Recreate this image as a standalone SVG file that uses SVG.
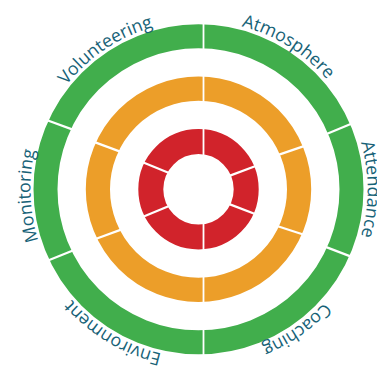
<svg xmlns="http://www.w3.org/2000/svg" xmlns:xlink="http://www.w3.org/1999/xlink" width="377" height="368" viewBox="0 0 377 368">
  <style>
    .ring { fill: none; }
    .green { stroke: #41ae4c; stroke-width: 24; }
    .orange { stroke: #ec9e29; stroke-width: 24.2; }
    .red { stroke: #d1232b; stroke-width: 25; }
    .gap { stroke: #ffffff; stroke-width: 2.2; stroke-linecap: butt; }
    .label { font-family: "Open Sans", Lato, "DejaVu Sans", sans-serif; font-size: 17.8px; font-weight: 500; fill: #176277; }
  </style>
  <defs>
    <!-- clockwise circle starting at 12 o'clock, used as the label baseline -->
    <path id="labelArc" d="M199,20.8 A168.5,168.5 0 1 1 199,357.8 A168.5,168.5 0 1 1 199,20.8"/>
  </defs>

  <rect width="377" height="368" fill="#ffffff"/>

  <!-- outer ring -->
  <g id="outer-ring">
    <circle class="ring green" cx="198.5" cy="189.3" r="153"/>
  </g>

  <!-- middle ring -->
  <g id="middle-ring">
    <circle class="ring orange" cx="198.5" cy="189.3" r="100.6"/>
  </g>

  <!-- inner ring -->
  <g id="inner-ring">
    <circle class="ring red" cx="198.5" cy="189.3" r="47.7"/>
  </g>

  <!-- white separators splitting each ring into six segments -->
  <g id="separators" class="gap">
    <line x1="203.5" y1="20" x2="203.5" y2="358" stroke-width="1.8"/>
    <!-- outer -->
    <line x1="44.5" y1="119.3" x2="74.8" y2="130.4"/>
    <line x1="323.6" y1="135.2" x2="353.7" y2="122.8"/>
    <line x1="45.6" y1="261.5" x2="75.4" y2="249.5"/>
    <line x1="323" y1="245.9" x2="353" y2="257.4"/>
    <!-- middle -->
    <line x1="91.2" y1="140.9" x2="121.5" y2="152.1"/>
    <line x1="276.2" y1="155.6" x2="306.1" y2="145.4"/>
    <line x1="93.5" y1="239.7" x2="123.8" y2="228.6"/>
    <line x1="275.5" y1="225.5" x2="305.5" y2="235.2"/>
    <!-- inner -->
    <line x1="140.3" y1="161.2" x2="169.7" y2="173.2"/>
    <line x1="228" y1="176.4" x2="257.7" y2="165.3"/>
    <line x1="141.3" y1="217.5" x2="169.7" y2="205.8"/>
    <line x1="228" y1="203.6" x2="257" y2="214.7"/>
  </g>

  <!-- segment labels around the outer ring -->
  <g id="label-atmosphere"><text class="label" text-anchor="middle"><textPath xlink:href="#labelArc" href="#labelArc" startOffset="8.9%">Atmosphere</textPath></text></g>
  <g id="label-attendance"><text class="label" text-anchor="middle"><textPath xlink:href="#labelArc" href="#labelArc" startOffset="25%">Attendance</textPath></text></g>
  <g id="label-coaching"><text class="label" text-anchor="middle"><textPath xlink:href="#labelArc" href="#labelArc" startOffset="40.3%">Coaching</textPath></text></g>
  <g id="label-environment"><text class="label" text-anchor="middle"><textPath xlink:href="#labelArc" href="#labelArc" startOffset="58.6%">Environment</textPath></text></g>
  <g id="label-monitoring"><text class="label" text-anchor="middle"><textPath xlink:href="#labelArc" href="#labelArc" startOffset="74.4%">Monitoring</textPath></text></g>
  <g id="label-volunteering"><text class="label" text-anchor="middle"><textPath xlink:href="#labelArc" href="#labelArc" startOffset="90.6%">Volunteering</textPath></text></g>
</svg>
